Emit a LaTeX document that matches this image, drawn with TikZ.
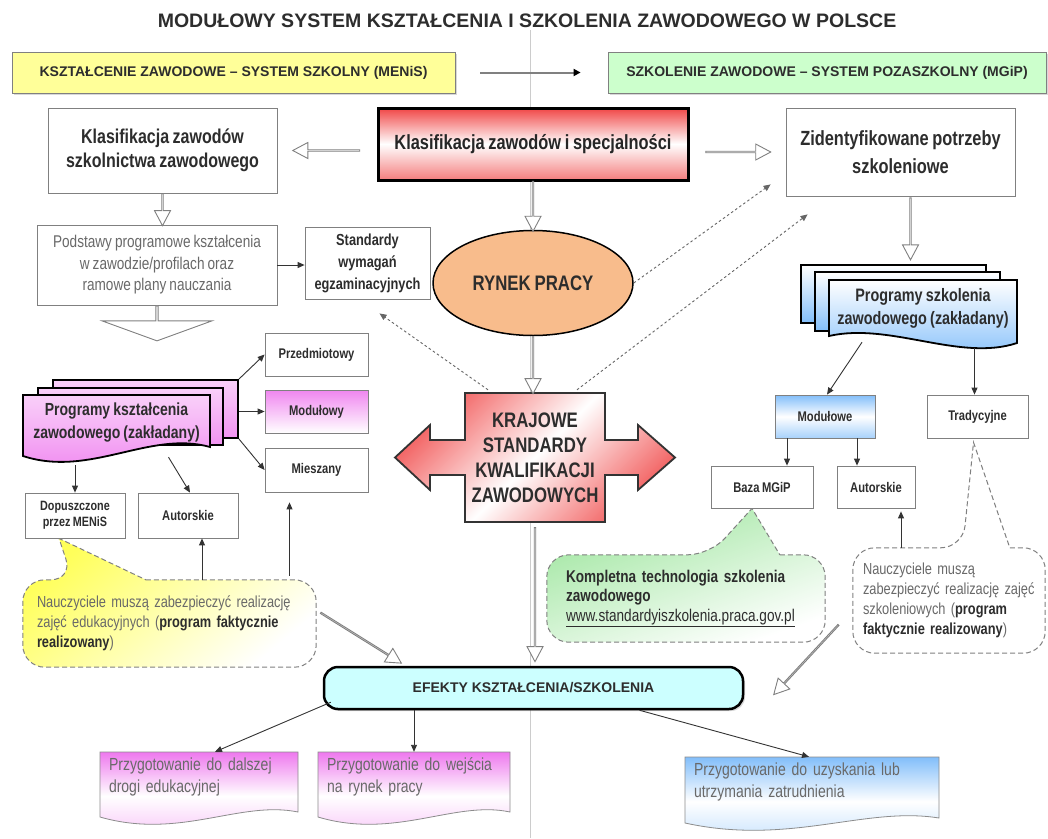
\documentclass[tikz,border=0pt]{standalone}
\usepackage{fontspec}
\setmainfont{Liberation Sans}
\newfontfamily\narrowsans{Liberation Sans}[FakeStretch=0.8, WordSpace=0.8]
\usetikzlibrary{
    arrows.meta,
    shapes.geometric,
    shapes.arrows,
    shadows,
    calc,
    backgrounds
    }
\definecolor{FrameGrey}{RGB}{128,128,128}
\definecolor{InkGrey}{RGB}{45,45,45}
\definecolor{SoftGrey}{RGB}{105,105,105}
\definecolor{SchoolYellow}{RGB}{255,255,153}
\definecolor{WorkGreen}{RGB}{204,255,204}
\definecolor{ClassRed}{RGB}{240,70,70}
\definecolor{MarketOrange}{RGB}{248,188,140}
\definecolor{ProgPink}{RGB}{238,120,238}
\definecolor{ProgBlue}{RGB}{130,190,250}
\definecolor{EffectCyan}{RGB}{204,255,255}
\definecolor{NoteYellow}{RGB}{255,255,90}
\definecolor{NoteGreen}{RGB}{160,230,160}

\newcommand{\px}[2]{\fontsize{#1}{#2}\selectfont}

\tikzset{
    arr/.style={draw=black!80, line width=0.9pt, -{Triangle[length=7pt,width=6pt]}},
    dotarr/.style={arr, draw=black!60, dash pattern=on 2.5pt off 2.5pt},
    hollow/.style={single arrow, draw=FrameGrey, fill=white, line width=0.9pt, inner sep=0pt,
        minimum width=16pt, single arrow head extend=4.5pt, single arrow tip angle=56,
        sloped, allow upside down},
    frame/.style={draw=FrameGrey, fill=white, line width=0.8pt, align=center, inner sep=0pt, text=InkGrey},
    smallbox/.style={frame, minimum width=103pt, minimum height=43pt, font=\narrowsans\bfseries\px{14}{16}},
    banner/.style={draw=FrameGrey, line width=0.8pt, minimum height=41pt, inner sep=0pt,
        font=\bfseries\px{14}{16}, text=InkGrey,
        drop shadow={opacity=0.3, shadow xshift=2pt, shadow yshift=-2pt}},
    page/.style={draw=black, line width=1.8pt},
    note/.style={draw=FrameGrey, line width=1pt, dash pattern=on 5pt off 3pt},
    notetext/.style={inner sep=0pt, align=left, text=SoftGrey, font=\narrowsans\px{16}{20}},
    doctext/.style={inner sep=0pt, align=left, text=SoftGrey, font=\narrowsans\px{17.5}{22}}
}

\begin{document}
\begin{tikzpicture}[x=1pt, y=-1pt]
    \useasboundingbox (0,0) rectangle (1048,838);

    %Paper and divider
    \begin{scope}[on background layer]
        \fill[white] (0,0) rectangle (1048,838);
        \draw[black!20, line width=0.8pt] (530,30) -- (530,838);
    \end{scope}

    %Title and systems
    \node[font=\bfseries\px{19.5}{22}, text=InkGrey] (title) at (527,21) {MODUŁOWY SYSTEM KSZTAŁCENIA I SZKOLENIA ZAWODOWEGO W POLSCE};
    \node[banner, fill=SchoolYellow, minimum width=443pt] (sysK) at (233.5,72.5) {KSZTAŁCENIE ZAWODOWE – SYSTEM SZKOLNY (MENiS)};
    \node[banner, fill=WorkGreen, minimum width=438pt] (sysZ) at (827,72.5) {SZKOLENIE ZAWODOWE – SYSTEM POZASZKOLNY (MGiP)};
    \draw[draw=FrameGrey, line width=2pt, -{Triangle[length=7pt,width=7pt,color=black]}, shorten <=25pt, shorten >=27pt] (sysK) -- (sysZ);

    %Classification
    \node[frame, minimum width=229pt, minimum height=85pt, font=\narrowsans\bfseries\px{20}{24}] (klasL) at (162.5,150.5) {Klasifikacja zawodów\\szkolnictwa zawodowego};
    \node[draw=black, line width=3pt, minimum width=310pt, minimum height=72pt, top color=ClassRed, bottom color=ClassRed!70, middle color=white, font=\narrowsans\bfseries\px{20.5}{24}, text=black!85] (klasC) at (533,144) {Klasifikacja zawodów i specjalności};
    \node[frame, minimum width=229pt, minimum height=88pt, font=\narrowsans\bfseries\px{20.5}{28}] (potrz) at (900.5,152) {Zidentyfikowane potrzeby\\szkoleniowe};
    \path (klasC.west |- klasL.east) -- node[hollow, minimum height=67pt] (hA1) {} (klasL.east);
    \path (klasC.east |- potrz.west) -- node[hollow, minimum height=65pt] (hA2) {} (potrz.west);

    %Labour market
    \node[ellipse, draw=black, line width=1.5pt, fill=MarketOrange, minimum width=200pt, minimum height=105pt, font=\narrowsans\bfseries\px{21}{24}, text=InkGrey] (rynek) at (533,283) {RYNEK PRACY};
    \path (klasC.south) -- node[hollow, minimum height=50pt] (hA4) {} (klasC.south |- rynek.north);

    %Core curricula
    \node[frame, text=SoftGrey, minimum width=240pt, minimum height=80pt, font=\narrowsans\px{17}{21.5}] (podst) at (157,265) {Podstawy programowe kształcenia\\w zawodzie/profilach oraz\\ramowe plany nauczania};
    \node[frame, minimum width=125pt, minimum height=72pt, font=\narrowsans\bfseries\px{16}{22}] (stand) at (367.5,263) {Standardy\\wymagań\\egzaminacyjnych};
    \draw[arr] (podst.east) -- (podst.east -| stand.west);
    \path (klasL.south) -- node[hollow, minimum height=32pt] (hA3) {} (klasL.south |- podst.north);
    \node[single arrow, draw=FrameGrey, fill=white, line width=0.9pt, inner sep=0pt, minimum width=110pt, minimum height=35pt, single arrow head extend=22pt, single arrow tip angle=140, shape border rotate=270, anchor=tail] (hA8) at (podst.south) {};

    %Krajowe standardy
    \draw[black!80, line width=1.8pt, top color=ClassRed!85, bottom color=ClassRed!85, middle color=white, shading angle=45]
        (465,393) -- (605,393) -- (605,440) -- (638,440) -- (638,425) -- (675,457.5) -- (638,490) -- (638,475) -- (605,475) -- (605,522)
        -- (465,522) -- (465,475) -- (430,475) -- (430,490) -- (395,457.5) -- (430,425) -- (430,440) -- (465,440) -- cycle;
    \node[minimum width=140pt, minimum height=129pt, inner sep=0pt, align=center, font=\narrowsans\bfseries\px{21}{25}, text=InkGrey] (kraj) at (535,457.5) {KRAJOWE\\STANDARDY\\KWALIFIKACJI\\ZAWODOWYCH};
    \path (rynek.south) -- node[hollow, minimum height=57pt] (hA6) {} (rynek.south |- kraj.north);

    %School programmes
    \node[page, top color=ProgPink!35, bottom color=ProgPink!80, minimum width=185pt, minimum height=58pt] (progK3) at (145.5,409) {};
    \node[page, top color=ProgPink!35, bottom color=ProgPink!80, minimum width=185pt, minimum height=57pt] (progK2) at (130.5,416.5) {};
    \draw[page, top color=ProgPink!35, bottom color=ProgPink!90] (23,395) -- (210,395) -- (210,447) .. controls (150,430) and (90,478) .. (23,456) -- cycle;
    \node[inner sep=0pt, minimum width=187pt, minimum height=56pt, align=center, font=\narrowsans\bfseries\px{17.5}{23}, text=InkGrey] (progK) at (116.5,423) {Programy kształcenia\\zawodowego (zakładany)};
    \node[smallbox] (przed) at (316.5,354.5) {Przedmiotowy};
    \node[smallbox, top color=ProgPink!90, bottom color=white] (modul) at (316.5,411.5) {Modułowy};
    \node[smallbox, minimum height=44pt] (miesz) at (316.5,470) {Mieszany};
    \draw[arr] (progK3.north east) -- (przed.west);
    \draw[arr] (progK3.east |- modul.west) -- (modul.west);
    \draw[arr] (progK3.south east) -- (miesz.west);
    \node[smallbox, minimum width=100pt, minimum height=45pt, font=\narrowsans\bfseries\px{13.5}{16}] (dop) at (75,515.5) {Dopuszczone\\przez MENiS};
    \node[smallbox, minimum width=100pt, minimum height=45pt] (autK) at (188,515.5) {Autorskie};
    \draw[arr] ($(progK.south -| dop.north)+(0,14)$) -- (dop.north);
    \draw[arr] ($(progK.south)+(52,6)$) -- ($(autK.north)+(2,0)$);

    %Teachers - school
    \node[notetext, minimum width=293pt, minimum height=87pt, text width=265pt] (calY) at (169.5,623.5) {Nauczyciele muszą zabezpieczyć realizację\\zajęć edukacyjnych (\textbf{\color{InkGrey}program faktycznie}\\\textbf{\color{InkGrey}realizowany})};
    \begin{scope}[on background layer]
        \draw[note, top color=NoteYellow, bottom color=white, shading angle=40] ($(calY.north west)+(123,0)$) [rounded corners=22pt] -- (calY.north east) -- (calY.south east) -- (calY.south west) -- (calY.north west) -- ($(calY.north west)+(50,0)$) [sharp corners] -- ($(dop.south)+(-16,0)$) -- cycle;
    \end{scope}
    \draw[arr] ($(calY.north -| autK.south)+(14,0)$) -- ($(autK.south)+(14,0)$);
    \draw[arr] ($(calY.north -| miesz.south)+(-27,-4)$) -- ($(miesz.south)+(-27,10)$);

    %Training programmes
    \path ([xshift=10pt]potrz.south) -- node[hollow, minimum height=62pt] (hA5) {} ([xshift=10pt]potrz.south |- 0,260);
    \node[page, top color=white, bottom color=ProgBlue, minimum width=185pt, minimum height=58pt] (progZ3) at (893.5,294) {};
    \node[page, top color=white, bottom color=ProgBlue, minimum width=185pt, minimum height=59pt] (progZ2) at (907.5,301.5) {};
    \draw[page, top color=white, bottom color=ProgBlue] (829,280) -- (1017,280) -- (1017,343) .. controls (960,362) and (890,322) .. (829,336) -- cycle;
    \node[inner sep=0pt, minimum width=188pt, minimum height=56pt, align=center, font=\narrowsans\bfseries\px{18}{23}, text=InkGrey] (progZ) at (923,308) {Programy szkolenia\\zawodowego (zakładany)};
    \node[smallbox, minimum width=100pt, top color=ProgBlue, bottom color=ProgBlue!70, middle color=white] (modZ) at (825,416.5) {Modułowe};
    \node[smallbox, minimum width=101pt] (trad) at (977.5,416.5) {Tradycyjne};
    \node[smallbox, minimum width=102pt, minimum height=42pt] (baza) at (762,487) {Baza MGiP};
    \node[smallbox, minimum width=78pt, minimum height=42pt] (autZ) at (876,487) {Autorskie};
    \draw[arr] ($(progZ.south)+(-61,6)$) -- ($(modZ.north)+(2,0)$);
    \draw[arr] ($(progZ.south -| trad.north)+(-3,12)$) -- ($(trad.north)+(-3,0)$);
    \draw[arr] ($(modZ.south -| baza.north)+(25,0)$) -- ($(baza.north)+(25,0)$);
    \draw[arr] ($(modZ.south -| autZ.north)+(-19,0)$) -- ($(autZ.north)+(-19,0)$);

    %Dotted links
    \draw[dotarr] (rynek.east) -- ($(potrz.south west)+(-15,-12)$);
    \draw[dotarr] ($(kraj.north)+(42,-3)$) -- ($(potrz.south west)+(22,18)$);
    \draw[dotarr] ($(kraj.north)+(-47,-3)$) -- ($(stand.south)+(12,14)$);

    %Technology note
    \node[notetext, text=InkGrey, font=\narrowsans\px{17}{19.5}, minimum width=278pt, minimum height=87pt, text width=240pt] (calG) at (686,598.5) {\textbf{Kompletna technologia szkolenia}\\\textbf{zawodowego}\\\underline{www.standardyiszkolenia.praca.gov.pl}};
    \begin{scope}[on background layer]
        \draw[note, top color=NoteGreen, bottom color=white, shading angle=20] ($(calG.north west)+(233,0)$) [rounded corners=22pt] -- (calG.north east) -- (calG.south east) -- (calG.south west) -- (calG.north west) -- ($(calG.north west)+(163,0)$) [sharp corners] -- ($(baza.south)+(-10,0)$) -- cycle;
    \end{scope}

    %Teachers - training
    \node[notetext, minimum width=192pt, minimum height=105pt, text width=172pt] (calR) at (949,600.5) {Nauczyciele muszą\\zabezpieczyć realizację zajęć\\szkoleniowych (\textbf{\color{InkGrey}program}\\\textbf{\color{InkGrey}faktycznie realizowany})};
    \begin{scope}[on background layer]
        \draw[note, fill=white] ($(calR.north west)+(157,0)$) [rounded corners=22pt] -- (calR.north east) -- (calR.south east) -- (calR.south west) -- (calR.north west) -- ($(calR.north west)+(110,0)$) [sharp corners] -- ($(trad.south)+(-4,4)$) -- cycle;
    \end{scope}
    \draw[arr] ($(calR.north -| autZ.south)+(25,0)$) -- ($(autZ.south)+(25,3)$);

    %Effects
    \node[draw=black, line width=2.5pt, rounded corners=14pt, fill=EffectCyan, minimum width=419pt, minimum height=42pt, font=\bfseries\px{14}{16}, text=InkGrey, drop shadow={opacity=0.3, shadow xshift=2pt, shadow yshift=-2pt}] (efekt) at (533.5,688) {EFEKTY KSZTAŁCENIA/SZKOLENIA};
    \path (kraj.south) -- node[hollow, minimum height=134pt] (hA7) {} (kraj.south |- efekt.north);
    \path ($(calY.east)+(4,-11)$) -- node[hollow, minimum height=95pt] (hA9) {} ($(efekt.north west)+(78,-3)$);
    \path ($(calR.west)+(-14,24)$) -- node[hollow, minimum height=95pt] (hA10) {} ($(efekt.east)+(30,6)$);

    %Outcomes
    \draw[draw=black!45, line width=0.8pt, top color=ProgPink, bottom color=ProgPink!45, middle color=white] (100,752) -- (298,752) -- (298,812) .. controls (240,800) and (180,840) .. (100,817) -- cycle;
    \draw[draw=black!45, line width=0.8pt, top color=ProgPink, bottom color=ProgPink!45, middle color=white] (318,752) -- (510,752) -- (510,812) .. controls (455,800) and (395,840) .. (318,817) -- cycle;
    \draw[draw=black!45, line width=0.8pt, top color=ProgBlue, bottom color=ProgBlue!50, middle color=white] (685,757) -- (939,757) -- (939,818) .. controls (865,806) and (790,846) .. (685,823) -- cycle;
    \node[doctext, minimum width=198pt, minimum height=50pt, text width=180pt] (out1) at (199,777) {Przygotowanie do dalszej\\drogi edukacyjnej};
    \node[doctext, minimum width=192pt, minimum height=50pt, text width=174pt] (out2) at (414,777) {Przygotowanie do wejścia\\na rynek pracy};
    \node[doctext, minimum width=254pt, minimum height=50pt, text width=236pt] (out3) at (812,782) {Przygotowanie do uzyskania lub\\utrzymania zatrudnienia};
    \draw[arr] ($(efekt.south west)+(8,-8)$) -- ($(out1.north)+(16,0)$);
    \draw[arr] (out2.north |- efekt.south) -- (out2.north);
    \draw[arr] ($(efekt.south)+(106,0)$) -- ($(out3.north)+(-3,0)$);

\end{tikzpicture}
\end{document}
